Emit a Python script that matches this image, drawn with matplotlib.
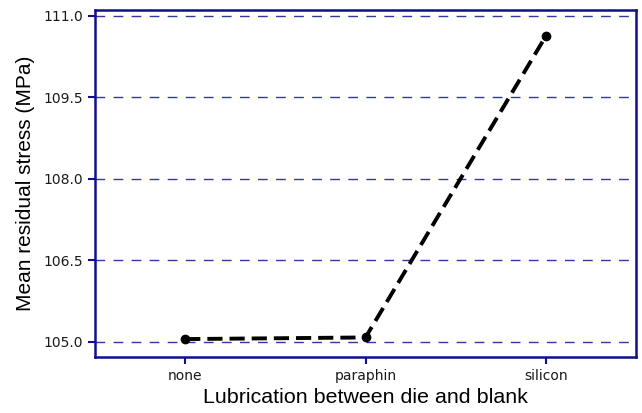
import matplotlib
matplotlib.use("Agg")
import matplotlib.pyplot as plt

categories = ["none", "paraphin", "silicon"]
mean_stress = [105.05, 105.08, 110.63]
y_ticks = [105.0, 106.5, 108.0, 109.5, 111.0]

navy = "#10108a"

fig = plt.figure(figsize=(6.42, 4.13), dpi=100)
ax = fig.add_axes([0.148, 0.1356, 0.8427, 0.8402])

x = list(range(len(categories)))
for y in y_ticks:
    ax.axhline(y, color="#3535a8", linestyle=(0, (7, 6)), linewidth=1.0, zorder=1)

ax.plot(x, mean_stress, color="black", linestyle=(0, (3.9, 1.8)), linewidth=2.8,
        marker="o", markersize=6, zorder=3)

ax.set_xlim(-0.5, 2.5)
ax.set_ylim(104.72, 111.11)
ax.set_xticks(x)
ax.set_xticklabels(categories)
ax.set_yticks(y_ticks)
ax.set_yticklabels([f"{v:.1f}" for v in y_ticks])

for spine in ax.spines.values():
    spine.set_color(navy)
    spine.set_linewidth(1.8)
ax.tick_params(axis="both", colors=navy, length=5, width=1.5, labelsize=10,
               labelcolor="#1a1a1a")

ax.set_xlabel("Lubrication between die and blank", fontsize=15.4,
              family="Liberation Sans", labelpad=4)
ax.set_ylabel("Mean residual stress (MPa)", fontsize=15,
              family="Liberation Sans", labelpad=6)

fig.savefig("out.png", dpi=100)
